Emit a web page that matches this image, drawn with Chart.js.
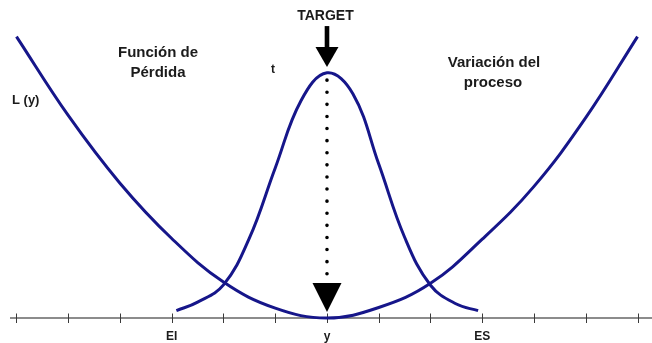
<!DOCTYPE html>
<html>
<head>
<meta charset="utf-8">
<script src="https://cdn.jsdelivr.net/npm/chart.js@4"></script>
<style>
  html, body { margin: 0; padding: 0; background: #fff; }
  #wrap { width: 652px; height: 343px; }
</style>
</head>
<body>
<div id="wrap"><canvas id="loss_graph"></canvas></div>
<script>
// x = distance from target (in tick steps), y = height above the axis
const lossX = [-6, -5, -4, -3, -2, -1, 0, 1, 2, 3, 4, 5, 6];
const lossY = [8.85, 6.37, 4.24, 2.50, 1.13, 0.31, 0, 0.33, 1.09, 2.48, 4.14, 6.30, 8.85];

const bellX = [-2.91, -2.5, -2, -1.5, -1, -0.5, 0, 0.5, 1, 1.5, 2, 2.5, 2.92];
const bellY = [0.23, 0.50, 1.04, 2.51, 4.72, 6.84, 7.71, 7.05, 4.84, 2.54, 1.03, 0.44, 0.23];

const targetX = 0;
const targetLineY = [7.48, 1.38];

const tickValues = [-6, -5, -4, -3, -2, -1, 0, 1, 2, 3, 4, 5, 6];
const labelValues = [-3, 0, 3];
const labelTexts = ['EI', 'y', 'ES'];

const NAVY = '#16168a';
const INK = '#1b1b1b';
const FONT = '"Liberation Sans", Arial, sans-serif';

const toPoints = (xs, ys) => xs.map((v, i) => ({x: v, y: ys[i]}));

const decorations = {
    id: 'decorations',
    beforeDatasetsDraw(chart) {
        const {ctx, chartArea, scales: {x, y}} = chart;
        const y0 = y.getPixelForValue(0);
        ctx.save();
        // axis line
        ctx.strokeStyle = '#8c8c8c';
        ctx.lineWidth = 2;
        ctx.beginPath();
        ctx.moveTo(chartArea.left, y0);
        ctx.lineTo(chartArea.right, y0);
        ctx.stroke();
        // crossing tick marks
        ctx.strokeStyle = '#3a3a3a';
        ctx.lineWidth = 1;
        tickValues.forEach(v => {
            const px = Math.round(x.getPixelForValue(v)) + 0.5;
            ctx.beginPath();
            ctx.moveTo(px, y0 - 4.5);
            ctx.lineTo(px, y0 + 5);
            ctx.stroke();
        });
        // tick labels
        ctx.fillStyle = INK;
        ctx.font = 'bold 12px ' + FONT;
        ctx.textAlign = 'center';
        ctx.textBaseline = 'middle';
        labelValues.forEach((v, i) => {
            ctx.fillText(labelTexts[i], x.getPixelForValue(v), y0 + 19);
        });
        ctx.restore();
    },
    afterDatasetsDraw(chart) {
        const {ctx, scales: {x, y}} = chart;
        const cx = x.getPixelForValue(targetX);
        ctx.save();
        ctx.fillStyle = '#000';

        // TARGET arrow
        const shaftTop = y.getPixelForValue(9.18);
        const headTop = y.getPixelForValue(8.52);
        const tip = y.getPixelForValue(7.89);
        ctx.fillRect(cx - 2.3, shaftTop, 4.6, headTop - shaftTop + 1);
        ctx.beginPath();
        ctx.moveTo(cx - 11.5, headTop);
        ctx.lineTo(cx + 11.5, headTop);
        ctx.lineTo(cx, tip);
        ctx.closePath();
        ctx.fill();

        // arrowhead at the end of the dotted line
        const bTop = y.getPixelForValue(1.10);
        const bTip = y.getPixelForValue(0.19);
        ctx.beginPath();
        ctx.moveTo(cx - 14.5, bTop);
        ctx.lineTo(cx + 14.5, bTop);
        ctx.lineTo(cx, bTip);
        ctx.closePath();
        ctx.fill();

        // texts
        ctx.fillStyle = INK;
        ctx.textAlign = 'center';
        ctx.textBaseline = 'middle';
        ctx.font = 'bold 14px ' + FONT;
        ctx.fillText('TARGET', 325.5, 16);
        ctx.font = 'bold 15px ' + FONT;
        ctx.fillText('Función de', 158, 53);
        ctx.fillText('Pérdida', 158, 73);
        ctx.fillText('Variación del', 494, 63);
        ctx.fillText('proceso', 493, 83);
        ctx.font = 'bold 12px ' + FONT;
        ctx.fillText('t', 273, 70);
        ctx.textAlign = 'left';
        ctx.font = 'bold 13px ' + FONT;
        ctx.fillText('L (y)', 12, 100);
        ctx.restore();
    }
};

const ctx = document.getElementById('loss_graph').getContext('2d');

const loss_graph = new Chart(ctx, {
    type: 'line',
    data: {
        datasets: [{
            label: 'Función de Pérdida',
            data: toPoints(lossX, lossY),
            borderColor: NAVY,
            borderWidth: 3,
            tension: 0.4,
            clip: false,
        },
        {
            label: 'Variación del proceso',
            data: toPoints(bellX, bellY),
            borderColor: NAVY,
            borderWidth: 3,
            tension: 0.4,
            clip: false,
        },
        {
            label: 'target',
            data: targetLineY.map(v => ({x: targetX, y: v})),
            borderColor: '#000',
            borderWidth: 3.6,
            borderDash: [0, 12.1],
            borderCapStyle: 'round',
            clip: false,
        }]
    },
    options: {
        responsive: true,
        maintainAspectRatio: false,
        animation: false,
        events: [],
        elements: {point: {radius: 0}},
        layout: {padding: {left: 10, right: 0, top: 0, bottom: 25}},
        plugins: {legend: {display: false}, tooltip: {enabled: false}},
        scales: {
            x: {type: 'linear', min: -6.125, max: 6.28, display: false},
            y: {type: 'linear', min: 0, max: 10, display: false}
        }
    },
    plugins: [decorations]
});
</script>
</body>
</html>
